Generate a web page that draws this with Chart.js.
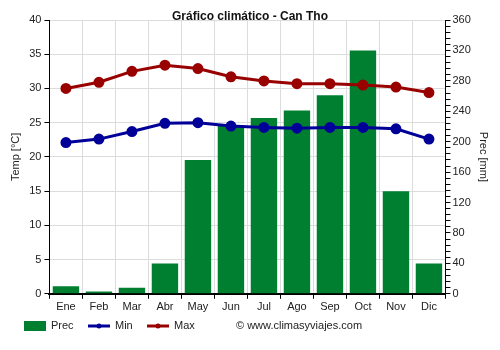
<!DOCTYPE html>
<html>
<head>
<meta charset="utf-8">
<script src="https://cdn.jsdelivr.net/npm/chart.js@4"></script>
<style>
  html, body { margin: 0; padding: 0; background: #fff; }
  #wrap { width: 500px; height: 350px; }
</style>
</head>
<body>
<div id="wrap"><canvas id="clima"></canvas></div>
<script>
var meses = ['Ene', 'Feb', 'Mar', 'Abr', 'May', 'Jun', 'Jul', 'Ago', 'Sep', 'Oct', 'Nov', 'Dic'];
var prec = [10, 3, 8, 40, 176, 221, 231, 241, 261, 320, 135, 40];
var tMin = [22.1, 22.6, 23.7, 24.9, 25.0, 24.5, 24.3, 24.2, 24.3, 24.3, 24.1, 22.6];
var tMax = [30.0, 30.9, 32.5, 33.4, 32.9, 31.7, 31.1, 30.7, 30.7, 30.5, 30.2, 29.4];

var verde = '#007f30';
var azul = '#000099';
var rojo = '#990000';
var fuente = '"Liberation Sans", Arial, sans-serif';

Chart.defaults.font.family = fuente;
Chart.defaults.font.size = 11;
Chart.defaults.color = '#222';

// titulo y leyenda dibujados a mano
var extras = {
  id: 'extras',
  afterDraw: function (chart) {
    var c = chart.ctx;
    c.save();
    c.fillStyle = '#111';
    c.font = 'bold 12px ' + fuente;
    c.textAlign = 'center';
    c.textBaseline = 'middle';
    c.fillText('Gráfico climático - Can Tho', 250, 17);

    var y = 326;
    c.font = '11px ' + fuente;
    c.textAlign = 'left';
    c.fillStyle = verde;
    c.fillRect(24, y - 5, 22, 10);
    c.fillStyle = '#222';
    c.fillText('Prec', 51, y);

    [[88, azul, 'Min'], [147, rojo, 'Max']].forEach(function (it) {
      c.strokeStyle = it[1];
      c.lineWidth = 3;
      c.beginPath();
      c.moveTo(it[0], y);
      c.lineTo(it[0] + 22, y);
      c.stroke();
      c.fillStyle = it[1];
      c.beginPath();
      c.arc(it[0] + 11, y, 2.5, 0, Math.PI * 2);
      c.fill();
      c.fillStyle = '#222';
      c.fillText(it[2], it[0] + 27, y);
    });

    c.fillText('© www.climasyviajes.com', 236, y);
    c.restore();
  }
};

new Chart(document.getElementById('clima'), {
  data: {
    labels: meses,
    datasets: [
      {
        type: 'line', label: 'Max', data: tMax, yAxisID: 'y',
        borderColor: rojo, backgroundColor: rojo, borderWidth: 3,
        pointRadius: 4, pointHoverRadius: 4, order: 1
      },
      {
        type: 'line', label: 'Min', data: tMin, yAxisID: 'y',
        borderColor: azul, backgroundColor: azul, borderWidth: 3,
        pointRadius: 4, pointHoverRadius: 4, order: 2
      },
      {
        type: 'bar', label: 'Prec', data: prec, yAxisID: 'y1',
        backgroundColor: verde, barPercentage: 0.8, categoryPercentage: 1, order: 3
      }
    ]
  },
  options: {
    responsive: true,
    maintainAspectRatio: false,
    animation: false,
    layout: { padding: { top: 20, bottom: 34, left: 5, right: 6 } },
    plugins: { legend: { display: false }, title: { display: false }, tooltip: { enabled: false } },
    scales: {
      x: {
        offset: true,
        grid: { offset: true, color: '#dcdcdc', tickColor: '#000', tickLength: 5 },
        border: { color: '#000', width: 2 },
        ticks: { padding: 2 }
      },
      y: {
        position: 'left', min: 0, max: 40,
        ticks: { stepSize: 5, padding: 3 },
        grid: { color: '#dcdcdc', tickColor: '#000', tickLength: 5 },
        border: { color: '#000', width: 1 },
        title: { display: true, text: 'Temp [°C]', padding: 4 }
      },
      y1: {
        position: 'right', min: 0, max: 360,
        ticks: {
          stepSize: 8, autoSkip: false, padding: 2,
          callback: function (v) { return v % 40 === 0 ? v : ''; }
        },
        grid: { drawOnChartArea: false, tickColor: '#000', tickLength: 5 },
        border: { color: '#000', width: 1 },
        title: { display: true, text: 'Prec [mm]', padding: 4 }
      }
    }
  },
  plugins: [extras]
});
</script>
</body>
</html>
